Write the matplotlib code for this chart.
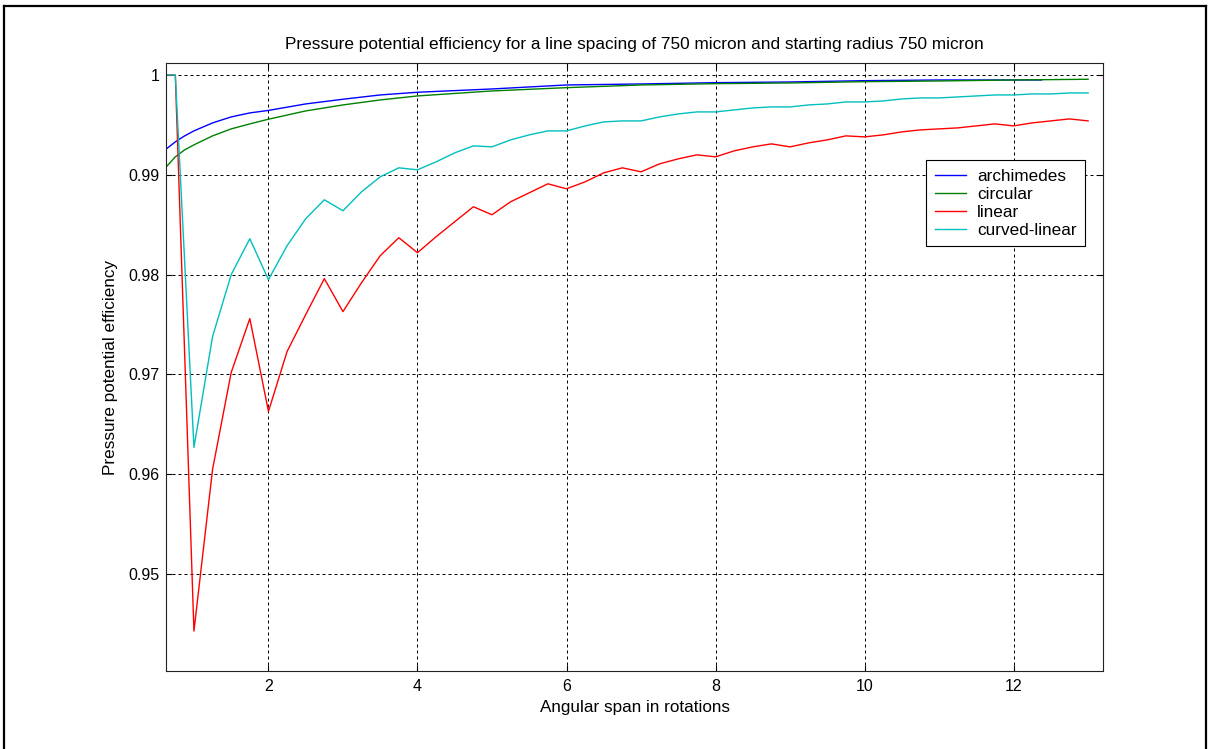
import matplotlib
matplotlib.use('Agg')
import matplotlib.pyplot as plt
from matplotlib.lines import Line2D

plt.rcParams['font.family'] = ['Liberation Sans', 'DejaVu Sans']

# sample positions (rotations)
x_lin = [0.625, 0.75, 1.0, 1.25, 1.5, 1.75, 2.0, 2.25, 2.5, 2.75, 3.0, 3.25, 3.5, 3.75,
         4.0, 4.25, 4.5, 4.75, 5.0, 5.25, 5.5, 5.75, 6.0, 6.25, 6.5, 6.75, 7.0, 7.25,
         7.5, 7.75, 8.0, 8.25, 8.5, 8.75, 9.0, 9.25, 9.5, 9.75, 10.0, 10.25, 10.5,
         10.75, 11.0, 11.25, 11.5, 11.75, 12.0, 12.25, 12.5, 12.75, 13.0]
x_arch = [0.625, 0.75, 0.875, 1.0, 1.25, 1.5, 1.75, 2.0, 2.5, 3.0, 3.5, 4.0, 5.0, 6.0,
          7.0, 8.0, 9.0, 10.0, 11.0, 12.0, 12.375]
x_circ = [0.625, 0.75, 0.875, 1.0, 1.25, 1.5, 1.75, 2.0, 2.5, 3.0, 3.5, 4.0, 5.0, 6.0,
          7.0, 8.0, 9.0, 10.0, 11.0, 12.0, 13.0]

archimedes = [0.99257, 0.9933, 0.9939, 0.9944, 0.9952, 0.9958, 0.9962, 0.99645, 0.9971,
              0.99757, 0.9980, 0.99827, 0.9986, 0.9990, 0.9991, 0.99923, 0.9993,
              0.99943, 0.9995, 0.9995, 0.9995]
circular = [0.99077, 0.9918, 0.9925, 0.9930, 0.9939, 0.9946, 0.9951, 0.99557, 0.9964,
            0.9970, 0.9975, 0.9979, 0.9984, 0.99873, 0.9990, 0.99913, 0.9992, 0.99933,
            0.9994, 0.9995, 0.99957]
linear = [1.0, 1.0, 0.9443, 0.9605, 0.9702, 0.9756, 0.9663, 0.9723, 0.9760, 0.9796,
          0.9763, 0.9792, 0.9819, 0.9837, 0.9822, 0.9838, 0.9853, 0.9868, 0.9860,
          0.9873, 0.9882, 0.9891, 0.9886, 0.9893, 0.9902, 0.9907, 0.9903, 0.9911,
          0.9916, 0.9920, 0.9918, 0.9924, 0.9928, 0.9931, 0.9928, 0.9932, 0.9935,
          0.9939, 0.9938, 0.9940, 0.9943, 0.9945, 0.9946, 0.9947, 0.9949, 0.9951,
          0.9949, 0.9952, 0.9954, 0.9956, 0.9954]
curved_linear = [1.0, 1.0, 0.9627, 0.9738, 0.9800, 0.9836, 0.9795, 0.9829, 0.9856,
                 0.9875, 0.9864, 0.9883, 0.9898, 0.9907, 0.9905, 0.9913, 0.9922, 0.9929,
                 0.9928, 0.9935, 0.9940, 0.9944, 0.9944, 0.9949, 0.9953, 0.9954, 0.9954,
                 0.9958, 0.9961, 0.9963, 0.9963, 0.9965, 0.9967, 0.9968, 0.9968, 0.9970,
                 0.9971, 0.9973, 0.9973, 0.9974, 0.9976, 0.9977, 0.9977, 0.9978, 0.9979,
                 0.9980, 0.9980, 0.9981, 0.9981, 0.9982, 0.9982]

xticks = [2, 4, 6, 8, 10, 12]
yticks = [0.95, 0.96, 0.97, 0.98, 0.99, 1.0]
ytick_labels = ['0.95', '0.96', '0.97', '0.98', '0.99', '1']

fig = plt.figure(figsize=(12.13, 7.49), dpi=100)
ax = fig.add_axes([166/1213, 78/749, 937/1213, 608/749])

ax.plot(x_arch, archimedes, color=(0, 0, 1), lw=1.0, label='archimedes')
ax.plot(x_circ, circular, color=(0, 0.5, 0), lw=1.0, label='circular')
ax.plot(x_lin, linear, color=(1, 0, 0), lw=1.0, label='linear')
ax.plot(x_lin, curved_linear, color=(0, 0.75, 0.75), lw=1.0, label='curved-linear')

ax.set_xlim(0.625, 13.2)
ax.set_ylim(0.9403, 1.0012)
ax.set_xticks(xticks)
ax.set_xticklabels([str(t) for t in xticks])
ax.set_yticks(yticks)
ax.set_yticklabels(ytick_labels)
ax.tick_params(direction='in', length=4.3, width=0.8, labelsize=11.5, pad=4.5,
               top=True, right=True, colors='black')
ax.tick_params(axis='x', pad=6)
ax.grid(True, color='black', lw=0.72, linestyle=(0, (3, 3)))
for s in ax.spines.values():
    s.set_linewidth(0.8)
    s.set_color('#222222')

ax.set_xlabel('Angular span in rotations', fontsize=12.3)
ax.xaxis.set_label_coords(0.5, -0.047)
ax.set_ylabel('Pressure potential efficiency', fontsize=12.3)
ax.yaxis.set_label_coords(-0.051, 0.5)
fig.text(634/1213, 1 - 45/749, 'Pressure potential efficiency for a line spacing of 750 micron and starting radius 750 micron',
         ha='center', va='center', fontsize=12.4)

leg = ax.legend(loc='upper right', bbox_to_anchor=(0.981, 0.840), fontsize=12.3,
                handlelength=1.85, handletextpad=0.62, labelspacing=0.17,
                borderpad=0.5, borderaxespad=0, fancybox=False, framealpha=1)
leg.get_frame().set_edgecolor('black')
leg.get_frame().set_linewidth(0.8)

# outer frame of the screenshot
fig.add_artist(Line2D([4/1213, 4/1213], [0, 1 - 6/749], transform=fig.transFigure, color='black', lw=1.6))
fig.add_artist(Line2D([4/1213, 1206/1213], [1 - 6/749, 1 - 6/749], transform=fig.transFigure, color='black', lw=1.6))
fig.add_artist(Line2D([1206/1213, 1206/1213], [0, 1 - 6/749], transform=fig.transFigure, color='black', lw=1.6))

fig.savefig('out.png', dpi=100)
